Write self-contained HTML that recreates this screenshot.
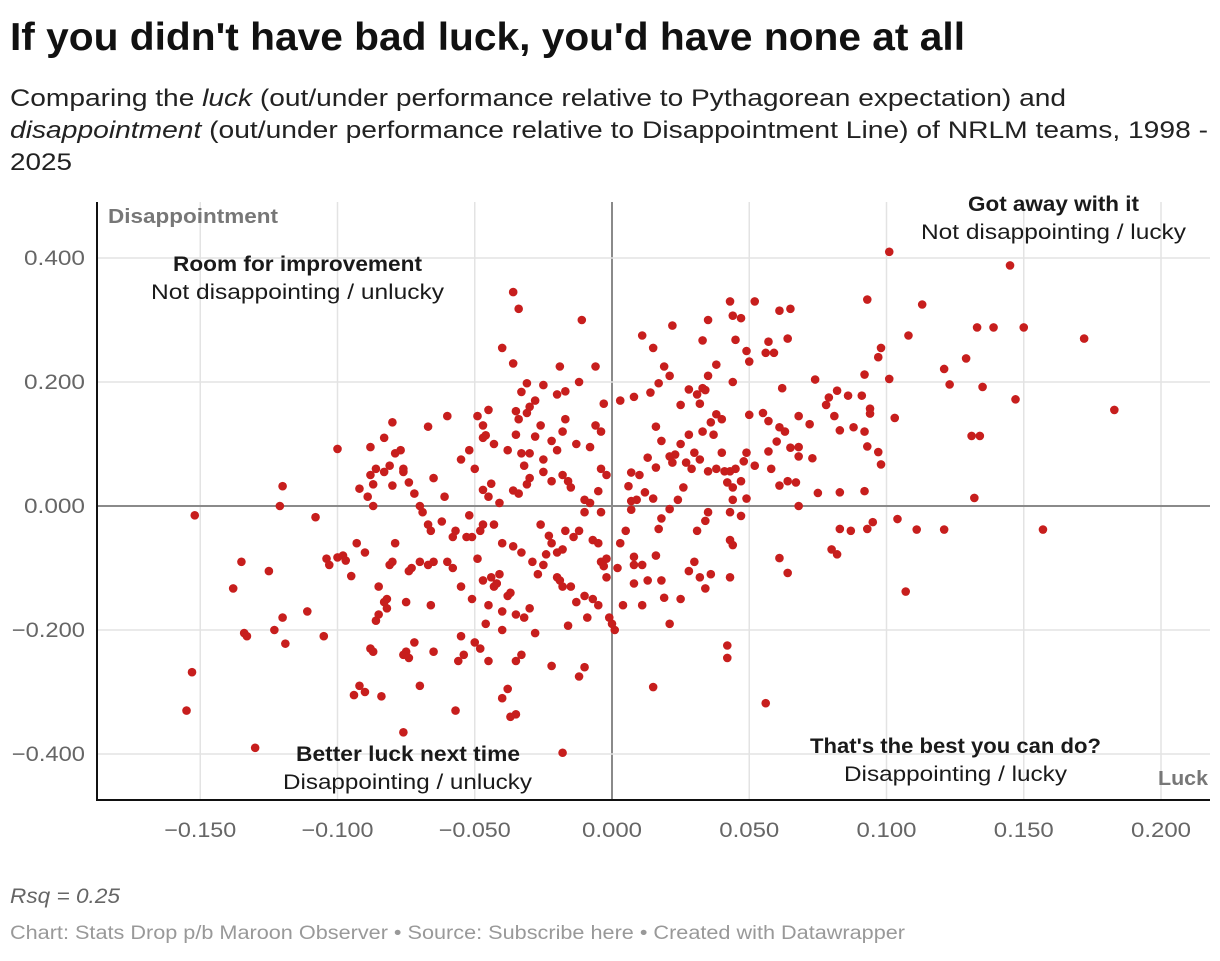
<!DOCTYPE html>
<html><head><meta charset="utf-8"><style>
body{margin:0;background:#fff;font-family:"Liberation Sans",sans-serif;}
svg text{font-family:"Liberation Sans",sans-serif;}
</style></head><body>
<svg id="chart" width="1220" height="956" xmlns="http://www.w3.org/2000/svg">
<text x="10" y="50" font-size="39" font-weight="bold" fill="#111" textLength="955" lengthAdjust="spacingAndGlyphs">If you didn't have bad luck, you'd have none at all</text>
<g font-size="24" fill="#222">
<text x="10" y="106" textLength="1056" lengthAdjust="spacingAndGlyphs">Comparing the <tspan font-style="italic">luck</tspan> (out/under performance relative to Pythagorean expectation) and</text>
<text x="10" y="138" textLength="1198" lengthAdjust="spacingAndGlyphs"><tspan font-style="italic">disappointment</tspan> (out/under performance relative to Disappointment Line) of NRLM teams, 1998 -</text>
<text x="10" y="170" textLength="62" lengthAdjust="spacingAndGlyphs">2025</text>
</g>
<g id="grid"></g>
<g id="dots"></g>
<g id="labels"></g>
<text x="108" y="223" font-size="20" font-weight="bold" fill="#777" textLength="170" lengthAdjust="spacingAndGlyphs">Disappointment</text>
<text x="1158" y="785" font-size="20" font-weight="bold" fill="#777" textLength="50" lengthAdjust="spacingAndGlyphs">Luck</text>
<g font-size="21" fill="#1a1a1a">
<g><text x="173" y="271" font-weight="bold" textLength="249" lengthAdjust="spacingAndGlyphs">Room for improvement</text><text x="151" y="299" textLength="293" lengthAdjust="spacingAndGlyphs">Not disappointing / unlucky</text></g>
<g><text x="968" y="211" font-weight="bold" textLength="171" lengthAdjust="spacingAndGlyphs">Got away with it</text><text x="921" y="239" textLength="265" lengthAdjust="spacingAndGlyphs">Not disappointing / lucky</text></g>
<g><text x="296" y="761" font-weight="bold" textLength="224" lengthAdjust="spacingAndGlyphs">Better luck next time</text><text x="283" y="789" textLength="249" lengthAdjust="spacingAndGlyphs">Disappointing / unlucky</text></g>
<g><text x="810" y="753" font-weight="bold" textLength="291" lengthAdjust="spacingAndGlyphs">That's the best you can do?</text><text x="844" y="781" textLength="223" lengthAdjust="spacingAndGlyphs">Disappointing / lucky</text></g>
</g>
<text x="10" y="903" font-size="21" font-style="italic" fill="#666" textLength="110" lengthAdjust="spacingAndGlyphs">Rsq = 0.25</text>
<text x="10" y="939" font-size="19" fill="#999" textLength="895" lengthAdjust="spacingAndGlyphs">Chart: Stats Drop p/b Maroon Observer • Source: Subscribe here • Created with Datawrapper</text>
</svg>
<script>
const xTicks=[-0.15,-0.1,-0.05,0,0.05,0.1,0.15,0.2];
const xTickLabels=["−0.150","−0.100","−0.050","0.000","0.050","0.100","0.150","0.200"];
const yTicks=[0.4,0.2,0,-0.2,-0.4];
const yTickLabels=["0.400","0.200","0.000","−0.200","−0.400"];
const teamSeasons=[[0.101,0.41],[0.145,0.388],[0.172,0.27],[0.183,0.155],[0.150,0.288],[0.147,0.172],[0.139,0.288],[0.133,0.288],[0.157,-0.038],[0.132,0.013],[0.131,0.113],[0.134,0.113],[0.135,0.192],[0.129,0.238],[0.123,0.196],[0.121,0.221],[0.113,0.325],[0.108,0.275],[0.093,0.333],[0.098,0.255],[0.097,0.24],[0.101,0.205],[0.103,0.142],[0.094,0.149],[0.094,0.157],[0.091,0.178],[0.086,0.178],[0.092,0.212],[0.093,0.096],[0.097,0.087],[0.098,0.067],[0.092,0.12],[0.088,0.127],[0.083,0.122],[0.082,0.186],[0.078,0.163],[0.079,0.175],[0.072,0.132],[0.074,0.204],[0.081,0.145],[0.073,0.077],[0.075,0.021],[0.083,0.022],[0.092,0.024],[0.083,-0.037],[0.087,-0.04],[0.093,-0.037],[0.095,-0.026],[0.104,-0.021],[0.111,-0.038],[0.121,-0.038],[0.107,-0.138],[0.082,-0.078],[0.08,-0.07],[0.064,-0.108],[0.061,-0.084],[0.056,-0.318],[0.068,0.0],[0.067,0.038],[0.068,0.145],[0.064,0.27],[0.065,0.318],[0.061,0.315],[0.056,0.247],[0.059,0.247],[0.057,0.265],[0.052,0.33],[0.047,0.303],[0.044,0.307],[0.043,0.33],[0.049,0.25],[0.05,0.233],[0.045,0.268],[0.055,0.15],[0.05,0.147],[0.057,0.137],[0.06,0.104],[0.061,0.127],[0.063,0.12],[0.065,0.094],[0.062,0.19],[0.068,0.095],[0.068,0.08],[0.057,0.088],[0.064,0.04],[0.061,0.033],[0.058,0.06],[0.052,0.065],[0.048,0.072],[0.049,0.086],[0.045,0.06],[0.043,0.056],[0.041,0.056],[0.04,0.086],[0.042,0.038],[0.044,0.03],[0.047,0.04],[0.049,0.012],[0.044,0.01],[0.043,-0.01],[0.047,-0.016],[0.043,-0.055],[0.044,-0.063],[0.043,-0.115],[0.042,-0.225],[0.042,-0.245],[0.032,-0.115],[0.034,-0.133],[0.036,-0.11],[0.028,-0.105],[0.03,-0.09],[0.031,-0.04],[0.034,-0.024],[0.035,-0.01],[0.025,-0.15],[0.019,-0.148],[0.018,-0.12],[0.021,-0.19],[0.015,-0.292],[0.016,-0.08],[0.017,-0.037],[0.018,-0.02],[0.021,-0.005],[0.024,0.01],[0.026,0.03],[0.029,0.06],[0.027,0.07],[0.032,0.075],[0.03,0.086],[0.035,0.056],[0.038,0.06],[0.04,0.14],[0.038,0.148],[0.037,0.115],[0.033,0.12],[0.036,0.135],[0.032,0.165],[0.031,0.18],[0.033,0.19],[0.034,0.187],[0.028,0.188],[0.025,0.163],[0.028,0.115],[0.025,0.1],[0.023,0.083],[0.021,0.08],[0.022,0.07],[0.013,0.078],[0.016,0.062],[0.01,0.05],[0.012,0.022],[0.015,0.012],[0.009,0.01],[0.007,-0.006],[0.005,-0.04],[0.003,-0.06],[0.008,-0.082],[0.011,-0.095],[0.002,-0.1],[0.013,-0.12],[0.008,-0.125],[0.004,-0.16],[0.0,-0.19],[0.001,-0.2],[-0.001,-0.18],[0.011,-0.16],[0.035,0.21],[0.038,0.228],[0.044,0.2],[0.035,0.3],[0.033,0.267],[0.022,0.291],[0.021,0.21],[0.017,0.198],[0.014,0.183],[0.019,0.225],[0.011,0.275],[0.015,0.255],[0.008,0.176],[0.003,0.17],[0.016,0.128],[0.018,0.105],[0.007,0.054],[0.006,0.032],[0.007,0.008],[-0.005,0.024],[-0.004,-0.01],[-0.007,-0.055],[-0.005,-0.06],[-0.004,-0.09],[-0.002,-0.085],[-0.003,-0.097],[-0.002,-0.115],[-0.007,-0.15],[-0.005,-0.16],[-0.013,-0.155],[-0.01,-0.145],[-0.015,-0.13],[-0.018,-0.13],[-0.019,-0.12],[-0.02,-0.115],[-0.009,-0.18],[-0.012,-0.275],[-0.01,-0.26],[-0.018,-0.398],[-0.022,-0.258],[-0.016,-0.193],[-0.028,-0.205],[-0.035,-0.25],[-0.033,-0.24],[-0.035,-0.336],[-0.037,-0.34],[-0.038,-0.295],[-0.04,-0.31],[-0.032,-0.18],[-0.035,-0.175],[-0.03,-0.165],[-0.037,-0.14],[-0.041,-0.11],[-0.042,-0.125],[-0.043,-0.13],[-0.044,-0.115],[-0.047,-0.12],[-0.049,-0.085],[-0.051,-0.05],[-0.048,-0.04],[-0.052,-0.015],[-0.047,-0.03],[-0.043,-0.03],[-0.04,-0.06],[-0.036,-0.065],[-0.033,-0.075],[-0.029,-0.09],[-0.027,-0.11],[-0.025,-0.095],[-0.024,-0.078],[-0.022,-0.06],[-0.02,-0.075],[-0.018,-0.07],[-0.026,-0.03],[-0.023,-0.048],[-0.017,-0.04],[-0.014,-0.05],[-0.012,-0.04],[-0.01,-0.01],[-0.01,0.01],[-0.008,0.005],[-0.015,0.03],[-0.018,0.05],[-0.022,0.04],[-0.025,0.055],[-0.03,0.045],[-0.031,0.035],[-0.034,0.02],[-0.036,0.025],[-0.041,0.005],[-0.044,0.036],[-0.045,0.015],[-0.047,0.026],[-0.05,0.06],[-0.052,0.09],[-0.047,0.11],[-0.046,0.114],[-0.049,0.145],[-0.047,0.13],[-0.045,0.155],[-0.043,0.1],[-0.038,0.09],[-0.035,0.115],[-0.034,0.14],[-0.031,0.15],[-0.03,0.16],[-0.028,0.17],[-0.026,0.13],[-0.028,0.112],[-0.03,0.085],[-0.033,0.085],[-0.032,0.065],[-0.025,0.075],[-0.022,0.105],[-0.02,0.09],[-0.018,0.12],[-0.017,0.14],[-0.016,0.04],[-0.013,0.1],[-0.008,0.095],[-0.006,0.13],[-0.004,0.12],[-0.003,0.165],[-0.006,0.225],[-0.012,0.2],[-0.017,0.185],[-0.019,0.225],[-0.02,0.18],[-0.025,0.195],[-0.031,0.198],[-0.033,0.184],[-0.035,0.153],[-0.036,0.23],[-0.04,0.255],[-0.036,0.345],[-0.034,0.318],[-0.011,0.3],[-0.004,0.06],[-0.002,0.05],[0.008,-0.095],[-0.152,-0.015],[-0.155,-0.33],[-0.153,-0.268],[-0.13,-0.39],[-0.135,-0.09],[-0.134,-0.205],[-0.133,-0.21],[-0.138,-0.133],[-0.125,-0.105],[-0.12,-0.18],[-0.119,-0.222],[-0.123,-0.2],[-0.12,0.032],[-0.121,0.0],[-0.111,-0.17],[-0.108,-0.018],[-0.105,-0.21],[-0.104,-0.085],[-0.103,-0.095],[-0.1,-0.083],[-0.098,-0.08],[-0.1,0.092],[-0.097,-0.088],[-0.095,-0.113],[-0.092,0.028],[-0.093,-0.06],[-0.09,-0.075],[-0.09,-0.3],[-0.094,-0.305],[-0.092,-0.29],[-0.087,-0.235],[-0.088,-0.23],[-0.086,-0.185],[-0.083,-0.155],[-0.085,-0.13],[-0.082,-0.15],[-0.085,-0.175],[-0.082,-0.165],[-0.079,-0.06],[-0.08,-0.09],[-0.081,-0.095],[-0.084,-0.307],[-0.087,0.0],[-0.087,0.035],[-0.088,0.05],[-0.088,0.095],[-0.089,0.015],[-0.086,0.06],[-0.083,0.055],[-0.083,0.11],[-0.081,0.065],[-0.08,0.033],[-0.079,0.085],[-0.08,0.135],[-0.077,0.09],[-0.076,0.055],[-0.076,0.06],[-0.074,0.038],[-0.072,0.02],[-0.07,-0.09],[-0.073,-0.1],[-0.074,-0.105],[-0.075,-0.155],[-0.075,-0.235],[-0.076,-0.24],[-0.074,-0.245],[-0.076,-0.365],[-0.07,-0.29],[-0.072,-0.22],[-0.065,-0.235],[-0.066,-0.16],[-0.065,-0.09],[-0.067,-0.095],[-0.066,-0.04],[-0.067,-0.03],[-0.069,-0.01],[-0.07,0.0],[-0.065,0.045],[-0.067,0.128],[-0.06,0.145],[-0.061,0.015],[-0.062,-0.025],[-0.058,-0.05],[-0.06,-0.09],[-0.058,-0.1],[-0.055,-0.13],[-0.057,-0.33],[-0.055,-0.21],[-0.054,-0.24],[-0.056,-0.25],[-0.055,0.075],[-0.057,-0.04],[-0.053,-0.05],[-0.051,-0.15],[-0.05,-0.22],[-0.048,-0.23],[-0.045,-0.16],[-0.045,-0.25],[-0.04,-0.17],[-0.038,-0.145],[-0.04,-0.2],[-0.046,-0.19],[-0.042,-0.125]];

const NS="http://www.w3.org/2000/svg";
const PL=97,PR=1210,PT=202,PB=800;
function xs(v){return 612+v*2745;}
function ys(v){return 506-v*620;}
function mk(tag,attrs,parent){const e=document.createElementNS(NS,tag);for(const k in attrs)e.setAttribute(k,attrs[k]);parent.appendChild(e);return e;}
const grid=document.getElementById('grid'),labels=document.getElementById('labels'),dots=document.getElementById('dots');
xTicks.forEach((t,i)=>{
  const l=mk('line',{x1:xs(t),x2:xs(t),y1:PT,y2:PB,stroke:t===0?'#8a8a8a':'#e3e3e3','stroke-width':t===0?2:1.5},grid);
  
  
  const w=xTickLabels[i].length*12;
  const tx=mk('text',{x:xs(t)-w/2,y:837,'font-size':21,fill:'#666',textLength:w,lengthAdjust:'spacingAndGlyphs'},labels);
  tx.textContent=xTickLabels[i];
  
  
});
yTicks.forEach((t,i)=>{
  const l=mk('line',{x1:PL,x2:PR,y1:ys(t),y2:ys(t),stroke:t===0?'#8a8a8a':'#e3e3e3','stroke-width':t===0?2:1.5},grid);
  
  
  const w=yTickLabels[i].length*12.2;
  const tx=mk('text',{x:85-w,y:ys(t)+7,'font-size':21,fill:'#666',textLength:w,lengthAdjust:'spacingAndGlyphs'},labels);
  tx.textContent=yTickLabels[i];
  
  
});
const ya=mk('line',{x1:PL,x2:PL,y1:PT,y2:PB+1,stroke:'#111','stroke-width':2},grid);


const xa=mk('line',{x1:PL,x2:PR,y1:PB,y2:PB,stroke:'#111','stroke-width':2},grid);


teamSeasons.forEach(p=>{
  const c=mk('circle',{cx:xs(p[0]),cy:ys(p[1]),r:4.3,fill:'#c71e1d'},dots);
  
  
});
</script>
</body></html>
